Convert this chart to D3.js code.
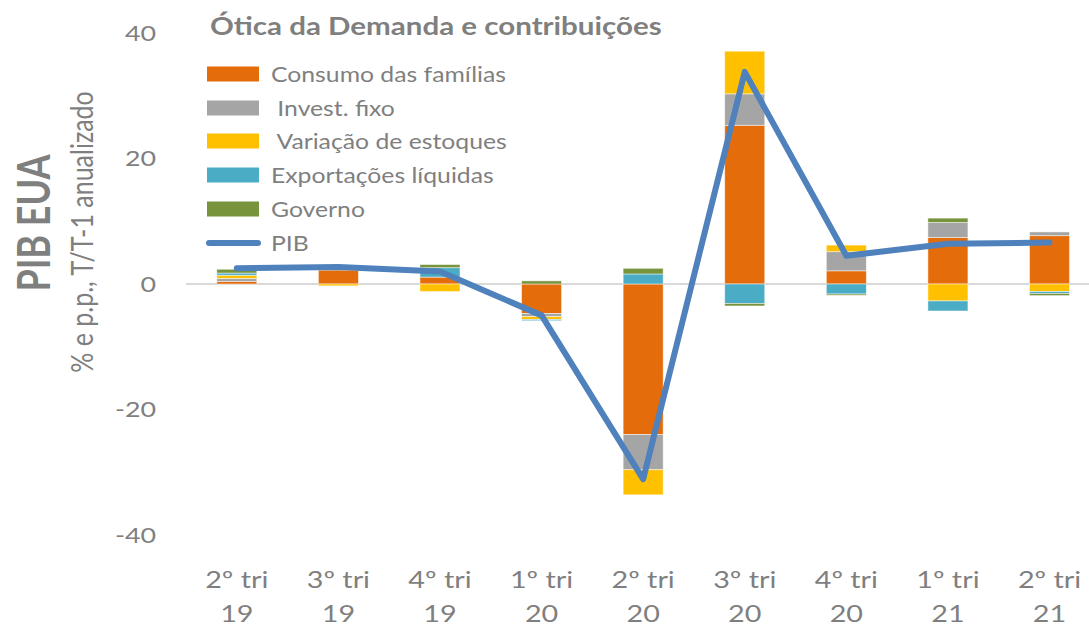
<!DOCTYPE html>
<html><head><meta charset="utf-8">
<script src="https://cdn.jsdelivr.net/npm/d3@7"></script>
<style>
body{margin:0;background:#fff;}
svg text{font-family:Lato,"Open Sans",sans-serif;}
</style></head>
<body><svg id="c" width="1089" height="627"></svg>
<script>
const categories = ["2º tri|19","3º tri|19","4º tri|19","1º tri|20","2º tri|20","3º tri|20","4º tri|20","1º tri|21","2º tri|21"];
const consumo   = [0.4, 2.2, 1.1, -4.7, -24.0, 25.3, 2.1, 7.4, 7.7];
const invest    = [0.5, 0.0, 0.0, -0.5, -5.6, 5.0, 3.05, 2.4, 0.6];
const estoques  = [0.5, -0.3, -1.2, -0.45, -4.0, 6.8, 1.05, -2.7, -1.2];
const exportLiq = [0.35, 0.0, 1.5, -0.2, 1.6, -3.1, -1.6, -1.6, -0.3];
const governo   = [0.6, 0.0, 0.5, 0.5, 0.9, -0.4, -0.2, 0.7, -0.35];
const pib       = [2.5, 2.7, 2.0, -5.0, -31.1, 33.8, 4.5, 6.4, 6.6];
const yTicks = [40, 20, 0, -20, -40];
const seriesNames = ["Consumo das famílias"," Invest. fixo"," Variação de estoques","Exportações líquidas","Governo"];
const colors = ["#E46C0A","#A5A5A5","#FFC000","#4BACC6","#77933C"];
const pibColor = "#4F81BD";
const title = "Ótica da Demanda e contribuições";

const series = [consumo, invest, estoques, exportLiq, governo];
const svg = d3.select("#c");
const textColor = "#7f7f7f";
const SX = 1.22; // horizontal stretch of the source picture's text

const x = d3.scaleBand().domain(categories).range([186, 1100.3]).padding(0);
const y = d3.scaleLinear().domain([-40, 40]).range([535, 33]);
const bw = x.bandwidth() * 0.394;

function txt(px, py, str, size, opts = {}) {
  const g = svg.append("g").attr("transform",
    `translate(${px},${py}) scale(${opts.sx || SX},1)` + (opts.rot ? ` rotate(${opts.rot})` : ""));
  const t = g.append("text").attr("x", 0).attr("y", 0).attr("fill", textColor)
    .attr("text-anchor", opts.anchor || "start").attr("xml:space", "preserve")
    .style("font-size", size + "px").style("white-space", "pre");
  if (opts.bold) t.style("font-weight", "bold");
  if (opts.dy) t.attr("dy", opts.dy);
  t.text(str);
  return t;
}

// zero line
svg.append("line").attr("x1", 186).attr("x2", 1089).attr("y1", y(0)).attr("y2", y(0))
  .attr("stroke", "#d9d9d9").attr("stroke-width", 2);

// stacked bars (pos/neg separately)
categories.forEach((c, i) => {
  let pos = 0, neg = 0;
  series.forEach((s, k) => {
    const v = s[i];
    if (v === 0) return;
    let y0, y1;
    if (v > 0) { y0 = pos; y1 = pos + v; pos = y1; }
    else { y0 = neg; y1 = neg + v; neg = y1; }
    svg.append("rect")
      .attr("x", x(c) + x.bandwidth()/2 - bw/2)
      .attr("width", bw)
      .attr("y", y(Math.max(y0, y1)))
      .attr("height", Math.abs(y(y0) - y(y1)))
      .attr("fill", colors[k])
      .attr("stroke", "#ffffff").attr("stroke-opacity", 0.6).attr("stroke-width", 0.8);
  });
});

// PIB line
const line = d3.line().x((d, i) => x(categories[i]) + x.bandwidth()/2).y(d => y(d));
svg.append("path").datum(pib).attr("d", line).attr("fill", "none")
  .attr("stroke", pibColor).attr("stroke-width", 6).attr("stroke-linejoin", "round").attr("stroke-linecap", "round");

// y tick labels (positions from the scale)
yTicks.forEach(v => txt(156, y(v), String(v), 22, { anchor: "end", dy: "0.36em" }));

// x labels
categories.forEach(c => {
  const parts = c.split("|");
  const cx = x(c) + x.bandwidth()/2;
  txt(cx, 588, parts[0], 23, { anchor: "middle", sx: 1.25 });
  txt(cx, 622, parts[1], 23, { anchor: "middle", sx: 1.25 });
});

// axis titles
txt(50, 223, "PIB EUA", 36, { anchor: "middle", bold: true, rot: -90, sx: 1.25 });
txt(93, 232, "% e p.p., T/T-1 anualizado", 25, { anchor: "middle", rot: -90 });

// title
txt(210, 35, title, 24.2, { bold: true });

// legend
const legY = [74, 108, 141, 175, 209, 243];
seriesNames.forEach((n, k) => {
  svg.append("rect").attr("x", 207).attr("y", legY[k] - 7.5).attr("width", 52).attr("height", 15).attr("fill", colors[k]);
  txt(271, legY[k] + 7.5, n, 20.3);
});
svg.append("line").attr("x1", 209).attr("x2", 258).attr("y1", legY[5]).attr("y2", legY[5])
  .attr("stroke", pibColor).attr("stroke-width", 6).attr("stroke-linecap", "round");
txt(271, legY[5] + 7.5, "PIB", 20.3);
</script></body></html>
